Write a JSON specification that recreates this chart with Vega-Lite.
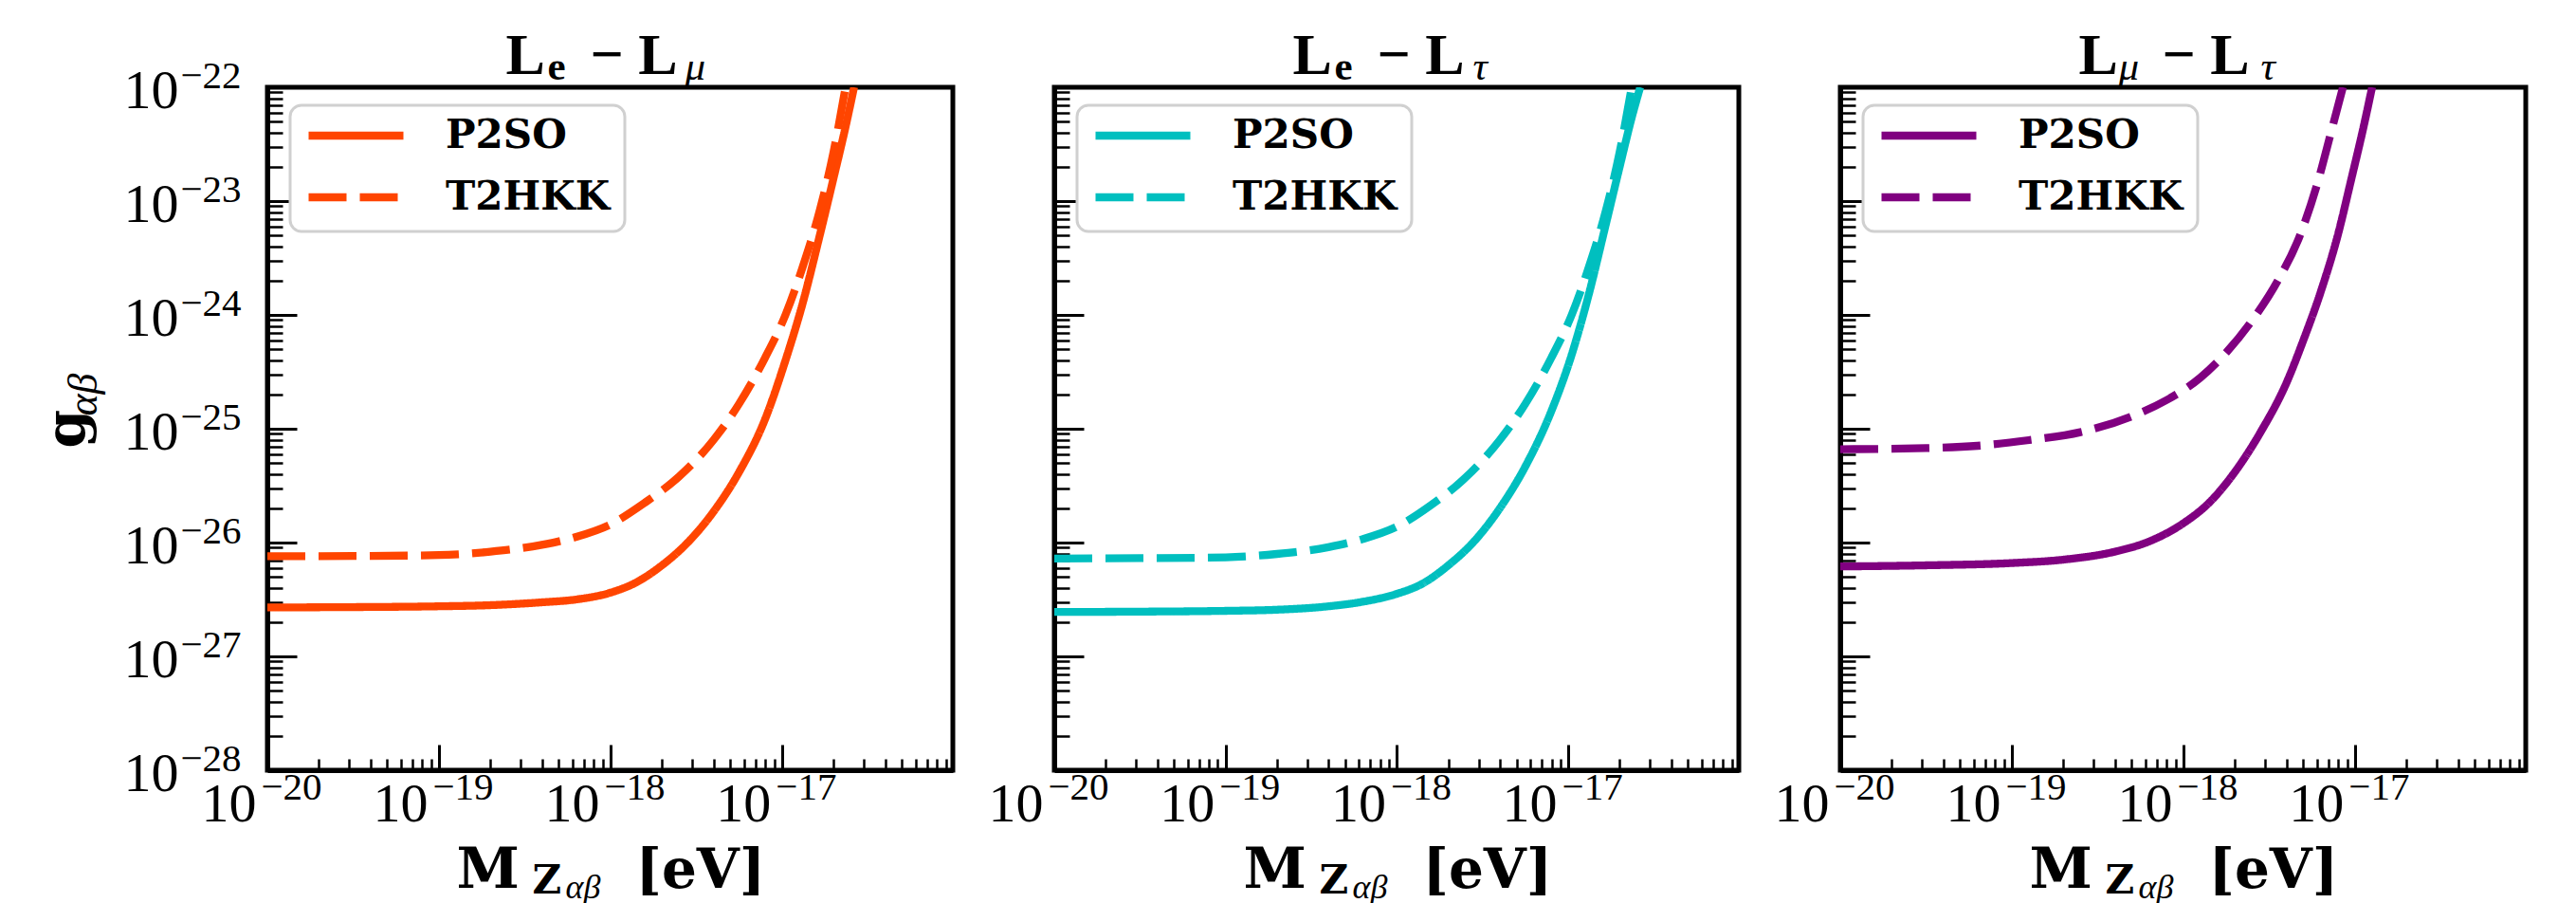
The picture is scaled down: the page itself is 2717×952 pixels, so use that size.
{
"$schema": "https://vega.github.io/schema/vega-lite/v6.json",
"autosize": {"type": "none"},
"padding": {"left": 282, "top": 92, "right": 2435, "bottom": 860},
"background": "white",
"bounds": "flush",
"spacing": 107,
"resolve": {"scale": {"strokeDash": "independent"}, "legend": {"strokeDash": "independent"}},
"config": {
  "font": "Liberation Serif",
  "view": {"stroke": "black", "strokeWidth": 5},
  "axis": {"grid": false, "labelFlush": false, "labelOverlap": false, "tickColor": "black", "domainColor": "black", "labelColor": "black", "titleColor": "black", "labelFont": "Liberation Serif", "titleFont": "Liberation Serif", "titleAlign": "left", "titleBaseline": "alphabetic", "titleFontWeight": "bold", "zindex": 2, "titlePadding": 0}
},
"hconcat": [
{
  "width": 723, "height": 720,
  "data": {"values": [
    {"M":1e-20,"g":2.692e-27,"s":"P2SO"},{"M":3.162e-20,"g":2.710e-27,"s":"P2SO"},{"M":1e-19,"g":2.754e-27,"s":"P2SO"},{"M":1.995e-19,"g":2.818e-27,"s":"P2SO"},{"M":3.981e-19,"g":2.985e-27,"s":"P2SO"},{"M":6.310e-19,"g":3.162e-27,"s":"P2SO"},{"M":1e-18,"g":3.631e-27,"s":"P2SO"},{"M":1.413e-18,"g":4.467e-27,"s":"P2SO"},{"M":1.995e-18,"g":6.310e-27,"s":"P2SO"},{"M":2.818e-18,"g":1e-26,"s":"P2SO"},{"M":3.981e-18,"g":1.862e-26,"s":"P2SO"},{"M":5.623e-18,"g":4.169e-26,"s":"P2SO"},{"M":7.943e-18,"g":1.202e-25,"s":"P2SO"},{"M":1.047e-17,"g":3.981e-25,"s":"P2SO"},{"M":1.318e-17,"g":1.259e-24,"s":"P2SO"},{"M":1.660e-17,"g":5.012e-24,"s":"P2SO"},{"M":1.995e-17,"g":1.585e-23,"s":"P2SO"},{"M":2.344e-17,"g":4.467e-23,"s":"P2SO"},{"M":2.630e-17,"g":1e-22,"s":"P2SO"},
    {"M":1e-20,"g":7.586e-27,"s":"T2HKK"},{"M":3.162e-20,"g":7.621e-27,"s":"T2HKK"},{"M":1e-19,"g":7.762e-27,"s":"T2HKK"},{"M":1.995e-19,"g":8.318e-27,"s":"T2HKK"},{"M":3.981e-19,"g":9.550e-27,"s":"T2HKK"},{"M":6.310e-19,"g":1.122e-26,"s":"T2HKK"},{"M":1e-18,"g":1.445e-26,"s":"T2HKK"},{"M":1.585e-18,"g":2.239e-26,"s":"T2HKK"},{"M":2.512e-18,"g":3.802e-26,"s":"T2HKK"},{"M":3.981e-18,"g":7.943e-26,"s":"T2HKK"},{"M":5.623e-18,"g":1.660e-25,"s":"T2HKK"},{"M":7.943e-18,"g":4.169e-25,"s":"T2HKK"},{"M":1.047e-17,"g":1e-24,"s":"T2HKK"},{"M":1.318e-17,"g":2.630e-24,"s":"T2HKK"},{"M":1.660e-17,"g":8.318e-24,"s":"T2HKK"},{"M":1.995e-17,"g":2.692e-23,"s":"T2HKK"},{"M":2.344e-17,"g":1e-22,"s":"T2HKK"}
  ]},
  "resolve": {"axis": {"x": "independent", "y": "independent"}},
  "layer": [
    {"mark": {"type": "line", "color": "#FF4500", "strokeWidth": 8.3, "strokeCap": "butt", "interpolate": "monotone", "clip": true},
     "encoding": {
       "x": {"field": "M", "type": "quantitative", "scale": {"type": "log", "domain": [1e-20, 9.9e-17], "nice": false},
             "axis": {"orient": "bottom", "values": [1e-20,1e-19,1e-18,1e-17], "labels": false, "tickSize": -27, "tickWidth": 3, "domainWidth": 5, "title": "M", "titleX": 199, "titleY": 123, "titleFont": "DejaVu Serif", "titleFontSize": 60}},
       "y": {"field": "g", "type": "quantitative", "scale": {"type": "log", "domain": [1e-28, 1e-22], "nice": false},
             "axis": {"orient": "left", "values": [1e-28,1e-27,1e-26,1e-25,1e-24,1e-23,1e-22], "labels": false, "tickSize": -31, "tickWidth": 3, "domainWidth": 5, "title": "g", "titleAngle": 270, "titleX": -194, "titleY": 380, "titleFont": "DejaVu Serif", "titleFontSize": 58}},
       "strokeDash": {"field": "s", "type": "nominal", "scale": {"domain": ["P2SO", "T2HKK"], "range": [[1, 0], [40, 14]]},
             "legend": {"title": null, "orient": "none", "legendX": 24, "legendY": 19, "fillColor": "white", "strokeColor": "#d0d0d0", "padding": 15, "cornerRadius": 12, "symbolType": "stroke", "symbolSize": 10000, "symbolStrokeWidth": 8.3, "symbolStrokeColor": "#FF4500", "labelFont": "DejaVu Serif", "labelFontWeight": "bold", "labelFontSize": 42, "labelColor": "black", "labelOffset": 40, "clipHeight": 34, "rowPadding": 23, "labelLimit": 400, "encode": {"legend": {"update": {"strokeWidth": {"value": 3}}}}}}
     }},
    {"mark": {"type": "point", "opacity": 0},
     "encoding": {
       "x": {"field": "M", "type": "quantitative", "scale": {"type": "log", "domain": [1e-20, 9.9e-17], "nice": false},
             "axis": {"orient": "bottom", "values": [2e-20,3e-20,4e-20,5e-20,6e-20,7e-20,8e-20,9e-20,2e-19,3e-19,4e-19,5e-19,6e-19,7e-19,8e-19,9e-19,2e-18,3e-18,4e-18,5e-18,6e-18,7e-18,8e-18,9e-18,2e-17,3e-17,4e-17,5e-17,6e-17,7e-17,8e-17,9e-17], "labels": false, "domain": false, "tickSize": -12, "tickWidth": 2.5, "title": "Z", "titleX": 279, "titleY": 129, "titleFont": "DejaVu Serif", "titleFontSize": 42}},
       "y": {"field": "g", "type": "quantitative", "scale": {"type": "log", "domain": [1e-28, 1e-22], "nice": false},
             "axis": {"orient": "left", "values": [2e-28,3e-28,4e-28,5e-28,6e-28,7e-28,8e-28,9e-28,2e-27,3e-27,4e-27,5e-27,6e-27,7e-27,8e-27,9e-27,2e-26,3e-26,4e-26,5e-26,6e-26,7e-26,8e-26,9e-26,2e-25,3e-25,4e-25,5e-25,6e-25,7e-25,8e-25,9e-25,2e-24,3e-24,4e-24,5e-24,6e-24,7e-24,8e-24,9e-24,2e-23,3e-23,4e-23,5e-23,6e-23,7e-23,8e-23,9e-23], "labels": false, "domain": false, "tickSize": -16, "tickWidth": 2.5, "title": "αβ", "titleAngle": 270, "titleX": -181, "titleY": 346, "titleFontSize": 44, "titleFontStyle": "italic", "titleFontWeight": "normal"}}
     }},
    {"mark": {"type": "point", "opacity": 0},
     "encoding": {
       "x": {"field": "M", "type": "quantitative", "scale": {"type": "log", "domain": [1e-20, 9.9e-17], "nice": false},
             "axis": {"orient": "bottom", "values": [1e-20,1e-19,1e-18,1e-17], "ticks": false, "tickSize": 0, "domain": false, "labelExpr": "'10'", "labelFontSize": 58, "labelAlign": "right", "labelBaseline": "alphabetic", "labelPadding": 53, "labelOffset": -12, "title": "αβ", "titleX": 314, "titleY": 134, "titleFontSize": 36, "titleFontStyle": "italic", "titleFontWeight": "normal"}},
       "y": {"field": "g", "type": "quantitative", "scale": {"type": "log", "domain": [1e-28, 1e-22], "nice": false},
             "axis": {"orient": "left", "values": [1e-28,1e-27,1e-26,1e-25,1e-24,1e-23,1e-22], "ticks": false, "tickSize": 0, "domain": false, "labelExpr": "'10'", "labelFontSize": 58, "labelAlign": "right", "labelBaseline": "alphabetic", "labelPadding": 94, "labelOffset": 21, "title": null}}
     }},
    {"mark": {"type": "point", "opacity": 0},
     "encoding": {
       "x": {"field": "M", "type": "quantitative", "scale": {"type": "log", "domain": [1e-20, 9.9e-17], "nice": false},
             "axis": {"orient": "bottom", "values": [1e-20,1e-19,1e-18,1e-17], "ticks": false, "tickSize": 0, "domain": false, "labelExpr": "datum.value < 3e-20 ? '−20' : datum.value < 3e-19 ? '−19' : datum.value < 3e-18 ? '−18' : '−17'", "labelFontSize": 41, "labelAlign": "left", "labelBaseline": "alphabetic", "labelPadding": 30, "labelOffset": -7, "title": "[eV]", "titleX": 388, "titleY": 123, "titleFont": "DejaVu Serif", "titleFontSize": 58}},
       "y": {"field": "g", "type": "quantitative", "scale": {"type": "log", "domain": [1e-28, 1e-22], "nice": false},
             "axis": {"orient": "left", "values": [1e-28,1e-27,1e-26,1e-25,1e-24,1e-23,1e-22], "ticks": false, "tickSize": 0, "domain": false, "labelExpr": "datum.value < 3e-28 ? '−28' : datum.value < 3e-27 ? '−27' : datum.value < 3e-26 ? '−26' : datum.value < 3e-25 ? '−25' : datum.value < 3e-24 ? '−24' : datum.value < 3e-23 ? '−23' : '−22'", "labelFontSize": 41, "labelAlign": "left", "labelBaseline": "alphabetic", "labelPadding": 92, "title": null}}
     }},
    {"mark": {"type": "point", "opacity": 0},
     "encoding": {
       "x": {"field": "M", "type": "quantitative", "scale": {"type": "log", "domain": [1e-20, 9.9e-17], "nice": false},
             "axis": {"orient": "top", "ticks": false, "labels": false, "domain": false, "title": "L", "titleX": 251, "titleY": -15, "titleFontSize": 62}},
       "y": {"field": "g", "type": "quantitative", "scale": {"type": "log", "domain": [1e-28, 1e-22], "nice": false}, "axis": null}
     }},
    {"mark": {"type": "point", "opacity": 0},
     "encoding": {
       "x": {"field": "M", "type": "quantitative", "scale": {"type": "log", "domain": [1e-20, 9.9e-17], "nice": false},
             "axis": {"orient": "top", "ticks": false, "labels": false, "domain": false, "title": "e", "titleX": 295, "titleY": -9, "titleFontSize": 43}},
       "y": {"field": "g", "type": "quantitative", "scale": {"type": "log", "domain": [1e-28, 1e-22], "nice": false}, "axis": null}
     }},
    {"mark": {"type": "point", "opacity": 0},
     "encoding": {
       "x": {"field": "M", "type": "quantitative", "scale": {"type": "log", "domain": [1e-20, 9.9e-17], "nice": false},
             "axis": {"orient": "top", "ticks": false, "labels": false, "domain": false, "title": "− L", "titleX": 340, "titleY": -15, "titleFontSize": 62}},
       "y": {"field": "g", "type": "quantitative", "scale": {"type": "log", "domain": [1e-28, 1e-22], "nice": false}, "axis": null}
     }},
    {"mark": {"type": "point", "opacity": 0},
     "encoding": {
       "x": {"field": "M", "type": "quantitative", "scale": {"type": "log", "domain": [1e-20, 9.9e-17], "nice": false},
             "axis": {"orient": "top", "ticks": false, "labels": false, "domain": false, "title": "μ", "titleX": 440, "titleY": -9, "titleFontSize": 43, "titleFontStyle": "italic", "titleFontWeight": "normal"}},
       "y": {"field": "g", "type": "quantitative", "scale": {"type": "log", "domain": [1e-28, 1e-22], "nice": false}, "axis": null}
     }}
  ]
},
{
  "width": 722, "height": 720,
  "data": {"values": [
    {"M":1e-20,"g":2.455e-27,"s":"P2SO"},{"M":3.162e-20,"g":2.472e-27,"s":"P2SO"},{"M":1e-19,"g":2.512e-27,"s":"P2SO"},{"M":1.995e-19,"g":2.570e-27,"s":"P2SO"},{"M":3.981e-19,"g":2.754e-27,"s":"P2SO"},{"M":6.310e-19,"g":3.020e-27,"s":"P2SO"},{"M":1e-18,"g":3.548e-27,"s":"P2SO"},{"M":1.413e-18,"g":4.365e-27,"s":"P2SO"},{"M":1.995e-18,"g":6.310e-27,"s":"P2SO"},{"M":2.818e-18,"g":1.023e-26,"s":"P2SO"},{"M":3.981e-18,"g":1.995e-26,"s":"P2SO"},{"M":5.623e-18,"g":4.677e-26,"s":"P2SO"},{"M":7.943e-18,"g":1.413e-25,"s":"P2SO"},{"M":1.047e-17,"g":4.467e-25,"s":"P2SO"},{"M":1.318e-17,"g":1.514e-24,"s":"P2SO"},{"M":1.660e-17,"g":6.310e-24,"s":"P2SO"},{"M":1.995e-17,"g":1.995e-23,"s":"P2SO"},{"M":2.344e-17,"g":5.370e-23,"s":"P2SO"},{"M":2.630e-17,"g":1e-22,"s":"P2SO"},
    {"M":1e-20,"g":7.244e-27,"s":"T2HKK"},{"M":3.162e-20,"g":7.295e-27,"s":"T2HKK"},{"M":1e-19,"g":7.413e-27,"s":"T2HKK"},{"M":1.995e-19,"g":7.943e-27,"s":"T2HKK"},{"M":3.981e-19,"g":9.120e-27,"s":"T2HKK"},{"M":6.310e-19,"g":1.072e-26,"s":"T2HKK"},{"M":1e-18,"g":1.380e-26,"s":"T2HKK"},{"M":1.585e-18,"g":2.138e-26,"s":"T2HKK"},{"M":2.512e-18,"g":3.715e-26,"s":"T2HKK"},{"M":3.981e-18,"g":7.943e-26,"s":"T2HKK"},{"M":5.623e-18,"g":1.660e-25,"s":"T2HKK"},{"M":7.943e-18,"g":4.169e-25,"s":"T2HKK"},{"M":1.047e-17,"g":1e-24,"s":"T2HKK"},{"M":1.318e-17,"g":2.630e-24,"s":"T2HKK"},{"M":1.660e-17,"g":8.318e-24,"s":"T2HKK"},{"M":1.995e-17,"g":2.692e-23,"s":"T2HKK"},{"M":2.344e-17,"g":1e-22,"s":"T2HKK"}
  ]},
  "resolve": {"axis": {"x": "independent", "y": "independent"}},
  "layer": [
    {"mark": {"type": "line", "color": "#00BFBF", "strokeWidth": 8.3, "strokeCap": "butt", "interpolate": "monotone", "clip": true},
     "encoding": {
       "x": {"field": "M", "type": "quantitative", "scale": {"type": "log", "domain": [1e-20, 9.9e-17], "nice": false},
             "axis": {"orient": "bottom", "values": [1e-20,1e-19,1e-18,1e-17], "labels": false, "tickSize": -27, "tickWidth": 3, "domainWidth": 5, "title": "M", "titleX": 199, "titleY": 123, "titleFont": "DejaVu Serif", "titleFontSize": 60}},
       "y": {"field": "g", "type": "quantitative", "scale": {"type": "log", "domain": [1e-28, 1e-22], "nice": false},
             "axis": {"orient": "left", "values": [1e-28,1e-27,1e-26,1e-25,1e-24,1e-23,1e-22], "labels": false, "tickSize": -31, "tickWidth": 3, "domainWidth": 5, "title": null}},
       "strokeDash": {"field": "s", "type": "nominal", "scale": {"domain": ["P2SO", "T2HKK"], "range": [[1, 0], [40, 14]]},
             "legend": {"title": null, "orient": "none", "legendX": 24, "legendY": 19, "fillColor": "white", "strokeColor": "#d0d0d0", "padding": 15, "cornerRadius": 12, "symbolType": "stroke", "symbolSize": 10000, "symbolStrokeWidth": 8.3, "symbolStrokeColor": "#00BFBF", "labelFont": "DejaVu Serif", "labelFontWeight": "bold", "labelFontSize": 42, "labelColor": "black", "labelOffset": 40, "clipHeight": 34, "rowPadding": 23, "labelLimit": 400, "encode": {"legend": {"update": {"strokeWidth": {"value": 3}}}}}}
     }},
    {"mark": {"type": "point", "opacity": 0},
     "encoding": {
       "x": {"field": "M", "type": "quantitative", "scale": {"type": "log", "domain": [1e-20, 9.9e-17], "nice": false},
             "axis": {"orient": "bottom", "values": [2e-20,3e-20,4e-20,5e-20,6e-20,7e-20,8e-20,9e-20,2e-19,3e-19,4e-19,5e-19,6e-19,7e-19,8e-19,9e-19,2e-18,3e-18,4e-18,5e-18,6e-18,7e-18,8e-18,9e-18,2e-17,3e-17,4e-17,5e-17,6e-17,7e-17,8e-17,9e-17], "labels": false, "domain": false, "tickSize": -12, "tickWidth": 2.5, "title": "Z", "titleX": 279, "titleY": 129, "titleFont": "DejaVu Serif", "titleFontSize": 42}},
       "y": {"field": "g", "type": "quantitative", "scale": {"type": "log", "domain": [1e-28, 1e-22], "nice": false},
             "axis": {"orient": "left", "values": [2e-28,3e-28,4e-28,5e-28,6e-28,7e-28,8e-28,9e-28,2e-27,3e-27,4e-27,5e-27,6e-27,7e-27,8e-27,9e-27,2e-26,3e-26,4e-26,5e-26,6e-26,7e-26,8e-26,9e-26,2e-25,3e-25,4e-25,5e-25,6e-25,7e-25,8e-25,9e-25,2e-24,3e-24,4e-24,5e-24,6e-24,7e-24,8e-24,9e-24,2e-23,3e-23,4e-23,5e-23,6e-23,7e-23,8e-23,9e-23], "labels": false, "domain": false, "tickSize": -16, "tickWidth": 2.5, "title": null}}
     }},
    {"mark": {"type": "point", "opacity": 0},
     "encoding": {
       "x": {"field": "M", "type": "quantitative", "scale": {"type": "log", "domain": [1e-20, 9.9e-17], "nice": false},
             "axis": {"orient": "bottom", "values": [1e-20,1e-19,1e-18,1e-17], "ticks": false, "tickSize": 0, "domain": false, "labelExpr": "'10'", "labelFontSize": 58, "labelAlign": "right", "labelBaseline": "alphabetic", "labelPadding": 53, "labelOffset": -12, "title": "αβ", "titleX": 314, "titleY": 134, "titleFontSize": 36, "titleFontStyle": "italic", "titleFontWeight": "normal"}},
       "y": {"field": "g", "type": "quantitative", "scale": {"type": "log", "domain": [1e-28, 1e-22], "nice": false}, "axis": null}
     }},
    {"mark": {"type": "point", "opacity": 0},
     "encoding": {
       "x": {"field": "M", "type": "quantitative", "scale": {"type": "log", "domain": [1e-20, 9.9e-17], "nice": false},
             "axis": {"orient": "bottom", "values": [1e-20,1e-19,1e-18,1e-17], "ticks": false, "tickSize": 0, "domain": false, "labelExpr": "datum.value < 3e-20 ? '−20' : datum.value < 3e-19 ? '−19' : datum.value < 3e-18 ? '−18' : '−17'", "labelFontSize": 41, "labelAlign": "left", "labelBaseline": "alphabetic", "labelPadding": 30, "labelOffset": -7, "title": "[eV]", "titleX": 388, "titleY": 123, "titleFont": "DejaVu Serif", "titleFontSize": 58}},
       "y": {"field": "g", "type": "quantitative", "scale": {"type": "log", "domain": [1e-28, 1e-22], "nice": false}, "axis": null}
     }},
    {"mark": {"type": "point", "opacity": 0},
     "encoding": {
       "x": {"field": "M", "type": "quantitative", "scale": {"type": "log", "domain": [1e-20, 9.9e-17], "nice": false},
             "axis": {"orient": "top", "ticks": false, "labels": false, "domain": false, "title": "L", "titleX": 251, "titleY": -15, "titleFontSize": 62}},
       "y": {"field": "g", "type": "quantitative", "scale": {"type": "log", "domain": [1e-28, 1e-22], "nice": false}, "axis": null}
     }},
    {"mark": {"type": "point", "opacity": 0},
     "encoding": {
       "x": {"field": "M", "type": "quantitative", "scale": {"type": "log", "domain": [1e-20, 9.9e-17], "nice": false},
             "axis": {"orient": "top", "ticks": false, "labels": false, "domain": false, "title": "e", "titleX": 295, "titleY": -9, "titleFontSize": 43}},
       "y": {"field": "g", "type": "quantitative", "scale": {"type": "log", "domain": [1e-28, 1e-22], "nice": false}, "axis": null}
     }},
    {"mark": {"type": "point", "opacity": 0},
     "encoding": {
       "x": {"field": "M", "type": "quantitative", "scale": {"type": "log", "domain": [1e-20, 9.9e-17], "nice": false},
             "axis": {"orient": "top", "ticks": false, "labels": false, "domain": false, "title": "− L", "titleX": 340, "titleY": -15, "titleFontSize": 62}},
       "y": {"field": "g", "type": "quantitative", "scale": {"type": "log", "domain": [1e-28, 1e-22], "nice": false}, "axis": null}
     }},
    {"mark": {"type": "point", "opacity": 0},
     "encoding": {
       "x": {"field": "M", "type": "quantitative", "scale": {"type": "log", "domain": [1e-20, 9.9e-17], "nice": false},
             "axis": {"orient": "top", "ticks": false, "labels": false, "domain": false, "title": "τ", "titleX": 441, "titleY": -9, "titleFontSize": 43, "titleFontStyle": "italic", "titleFontWeight": "normal"}},
       "y": {"field": "g", "type": "quantitative", "scale": {"type": "log", "domain": [1e-28, 1e-22], "nice": false}, "axis": null}
     }}
  ]
},
{
  "width": 723, "height": 720,
  "data": {"values": [
    {"M":1e-20,"g":6.166e-27,"s":"P2SO"},{"M":3.162e-20,"g":6.310e-27,"s":"P2SO"},{"M":1e-19,"g":6.607e-27,"s":"P2SO"},{"M":1.995e-19,"g":7.079e-27,"s":"P2SO"},{"M":3.981e-19,"g":8.318e-27,"s":"P2SO"},{"M":6.310e-19,"g":1.023e-26,"s":"P2SO"},{"M":1e-18,"g":1.479e-26,"s":"P2SO"},{"M":1.413e-18,"g":2.239e-26,"s":"P2SO"},{"M":1.995e-18,"g":4.169e-26,"s":"P2SO"},{"M":2.818e-18,"g":9.333e-26,"s":"P2SO"},{"M":3.981e-18,"g":2.512e-25,"s":"P2SO"},{"M":5.012e-18,"g":6.026e-25,"s":"P2SO"},{"M":6.310e-18,"g":1.585e-24,"s":"P2SO"},{"M":7.943e-18,"g":5.012e-24,"s":"P2SO"},{"M":9.550e-18,"g":1.585e-23,"s":"P2SO"},{"M":1.122e-17,"g":4.467e-23,"s":"P2SO"},{"M":1.259e-17,"g":1e-22,"s":"P2SO"},
    {"M":1e-20,"g":6.607e-26,"s":"T2HKK"},{"M":3.162e-20,"g":6.761e-26,"s":"T2HKK"},{"M":6.310e-20,"g":7.079e-26,"s":"T2HKK"},{"M":1.259e-19,"g":7.943e-26,"s":"T2HKK"},{"M":2.512e-19,"g":9.333e-26,"s":"T2HKK"},{"M":5.012e-19,"g":1.288e-25,"s":"T2HKK"},{"M":7.943e-19,"g":1.778e-25,"s":"T2HKK"},{"M":1.259e-18,"g":2.818e-25,"s":"T2HKK"},{"M":1.778e-18,"g":4.677e-25,"s":"T2HKK"},{"M":2.512e-18,"g":8.913e-25,"s":"T2HKK"},{"M":3.548e-18,"g":1.995e-24,"s":"T2HKK"},{"M":4.786e-18,"g":5.012e-24,"s":"T2HKK"},{"M":6.026e-18,"g":1.413e-23,"s":"T2HKK"},{"M":7.244e-18,"g":3.981e-23,"s":"T2HKK"},{"M":8.511e-18,"g":1e-22,"s":"T2HKK"}
  ]},
  "resolve": {"axis": {"x": "independent", "y": "independent"}},
  "layer": [
    {"mark": {"type": "line", "color": "#800080", "strokeWidth": 8.3, "strokeCap": "butt", "interpolate": "monotone", "clip": true},
     "encoding": {
       "x": {"field": "M", "type": "quantitative", "scale": {"type": "log", "domain": [1e-20, 9.9e-17], "nice": false},
             "axis": {"orient": "bottom", "values": [1e-20,1e-19,1e-18,1e-17], "labels": false, "tickSize": -27, "tickWidth": 3, "domainWidth": 5, "title": "M", "titleX": 199, "titleY": 123, "titleFont": "DejaVu Serif", "titleFontSize": 60}},
       "y": {"field": "g", "type": "quantitative", "scale": {"type": "log", "domain": [1e-28, 1e-22], "nice": false},
             "axis": {"orient": "left", "values": [1e-28,1e-27,1e-26,1e-25,1e-24,1e-23,1e-22], "labels": false, "tickSize": -31, "tickWidth": 3, "domainWidth": 5, "title": null}},
       "strokeDash": {"field": "s", "type": "nominal", "scale": {"domain": ["P2SO", "T2HKK"], "range": [[1, 0], [40, 14]]},
             "legend": {"title": null, "orient": "none", "legendX": 24, "legendY": 19, "fillColor": "white", "strokeColor": "#d0d0d0", "padding": 15, "cornerRadius": 12, "symbolType": "stroke", "symbolSize": 10000, "symbolStrokeWidth": 8.3, "symbolStrokeColor": "#800080", "labelFont": "DejaVu Serif", "labelFontWeight": "bold", "labelFontSize": 42, "labelColor": "black", "labelOffset": 40, "clipHeight": 34, "rowPadding": 23, "labelLimit": 400, "encode": {"legend": {"update": {"strokeWidth": {"value": 3}}}}}}
     }},
    {"mark": {"type": "point", "opacity": 0},
     "encoding": {
       "x": {"field": "M", "type": "quantitative", "scale": {"type": "log", "domain": [1e-20, 9.9e-17], "nice": false},
             "axis": {"orient": "bottom", "values": [2e-20,3e-20,4e-20,5e-20,6e-20,7e-20,8e-20,9e-20,2e-19,3e-19,4e-19,5e-19,6e-19,7e-19,8e-19,9e-19,2e-18,3e-18,4e-18,5e-18,6e-18,7e-18,8e-18,9e-18,2e-17,3e-17,4e-17,5e-17,6e-17,7e-17,8e-17,9e-17], "labels": false, "domain": false, "tickSize": -12, "tickWidth": 2.5, "title": "Z", "titleX": 279, "titleY": 129, "titleFont": "DejaVu Serif", "titleFontSize": 42}},
       "y": {"field": "g", "type": "quantitative", "scale": {"type": "log", "domain": [1e-28, 1e-22], "nice": false},
             "axis": {"orient": "left", "values": [2e-28,3e-28,4e-28,5e-28,6e-28,7e-28,8e-28,9e-28,2e-27,3e-27,4e-27,5e-27,6e-27,7e-27,8e-27,9e-27,2e-26,3e-26,4e-26,5e-26,6e-26,7e-26,8e-26,9e-26,2e-25,3e-25,4e-25,5e-25,6e-25,7e-25,8e-25,9e-25,2e-24,3e-24,4e-24,5e-24,6e-24,7e-24,8e-24,9e-24,2e-23,3e-23,4e-23,5e-23,6e-23,7e-23,8e-23,9e-23], "labels": false, "domain": false, "tickSize": -16, "tickWidth": 2.5, "title": null}}
     }},
    {"mark": {"type": "point", "opacity": 0},
     "encoding": {
       "x": {"field": "M", "type": "quantitative", "scale": {"type": "log", "domain": [1e-20, 9.9e-17], "nice": false},
             "axis": {"orient": "bottom", "values": [1e-20,1e-19,1e-18,1e-17], "ticks": false, "tickSize": 0, "domain": false, "labelExpr": "'10'", "labelFontSize": 58, "labelAlign": "right", "labelBaseline": "alphabetic", "labelPadding": 53, "labelOffset": -12, "title": "αβ", "titleX": 314, "titleY": 134, "titleFontSize": 36, "titleFontStyle": "italic", "titleFontWeight": "normal"}},
       "y": {"field": "g", "type": "quantitative", "scale": {"type": "log", "domain": [1e-28, 1e-22], "nice": false}, "axis": null}
     }},
    {"mark": {"type": "point", "opacity": 0},
     "encoding": {
       "x": {"field": "M", "type": "quantitative", "scale": {"type": "log", "domain": [1e-20, 9.9e-17], "nice": false},
             "axis": {"orient": "bottom", "values": [1e-20,1e-19,1e-18,1e-17], "ticks": false, "tickSize": 0, "domain": false, "labelExpr": "datum.value < 3e-20 ? '−20' : datum.value < 3e-19 ? '−19' : datum.value < 3e-18 ? '−18' : '−17'", "labelFontSize": 41, "labelAlign": "left", "labelBaseline": "alphabetic", "labelPadding": 30, "labelOffset": -7, "title": "[eV]", "titleX": 388, "titleY": 123, "titleFont": "DejaVu Serif", "titleFontSize": 58}},
       "y": {"field": "g", "type": "quantitative", "scale": {"type": "log", "domain": [1e-28, 1e-22], "nice": false}, "axis": null}
     }},
    {"mark": {"type": "point", "opacity": 0},
     "encoding": {
       "x": {"field": "M", "type": "quantitative", "scale": {"type": "log", "domain": [1e-20, 9.9e-17], "nice": false},
             "axis": {"orient": "top", "ticks": false, "labels": false, "domain": false, "title": "L", "titleX": 251, "titleY": -15, "titleFontSize": 62}},
       "y": {"field": "g", "type": "quantitative", "scale": {"type": "log", "domain": [1e-28, 1e-22], "nice": false}, "axis": null}
     }},
    {"mark": {"type": "point", "opacity": 0},
     "encoding": {
       "x": {"field": "M", "type": "quantitative", "scale": {"type": "log", "domain": [1e-20, 9.9e-17], "nice": false},
             "axis": {"orient": "top", "ticks": false, "labels": false, "domain": false, "title": "μ", "titleX": 293, "titleY": -9, "titleFontSize": 43, "titleFontStyle": "italic", "titleFontWeight": "normal"}},
       "y": {"field": "g", "type": "quantitative", "scale": {"type": "log", "domain": [1e-28, 1e-22], "nice": false}, "axis": null}
     }},
    {"mark": {"type": "point", "opacity": 0},
     "encoding": {
       "x": {"field": "M", "type": "quantitative", "scale": {"type": "log", "domain": [1e-20, 9.9e-17], "nice": false},
             "axis": {"orient": "top", "ticks": false, "labels": false, "domain": false, "title": "− L", "titleX": 339, "titleY": -15, "titleFontSize": 62}},
       "y": {"field": "g", "type": "quantitative", "scale": {"type": "log", "domain": [1e-28, 1e-22], "nice": false}, "axis": null}
     }},
    {"mark": {"type": "point", "opacity": 0},
     "encoding": {
       "x": {"field": "M", "type": "quantitative", "scale": {"type": "log", "domain": [1e-20, 9.9e-17], "nice": false},
             "axis": {"orient": "top", "ticks": false, "labels": false, "domain": false, "title": "τ", "titleX": 443, "titleY": -9, "titleFontSize": 43, "titleFontStyle": "italic", "titleFontWeight": "normal"}},
       "y": {"field": "g", "type": "quantitative", "scale": {"type": "log", "domain": [1e-28, 1e-22], "nice": false}, "axis": null}
     }}
  ]
}
]
}
